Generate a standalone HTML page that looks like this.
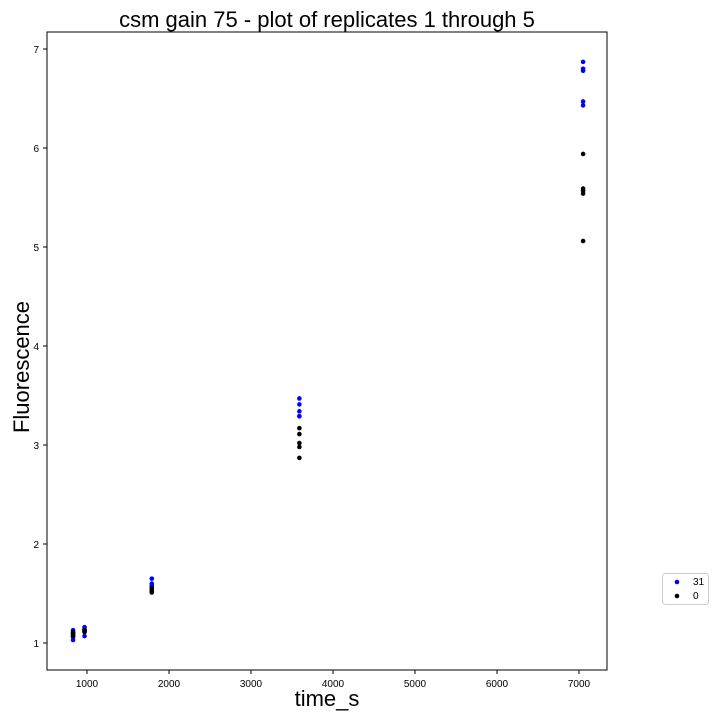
<!DOCTYPE html>
<html><head><meta charset="utf-8"><style>body{margin:0;background:#fff}svg{font-family:"Liberation Sans",sans-serif}</style></head>
<body>
<svg id="c" width="720" height="720"></svg>
<script>
const xBlue=[830,830,830,830,970,970,970,970,1790,1790,1790,1790,3590,3590,3590,3590,3590,7050,7050,7050,7050,7050];
const yBlue=[1.13,1.09,1.06,1.03,1.16,1.14,1.12,1.07,1.65,1.60,1.58,1.56,3.47,3.41,3.34,3.29,3.29,6.87,6.80,6.78,6.47,6.43];
const xBlack=[830,830,830,830,970,970,970,1790,1790,1790,1790,3590,3590,3590,3590,3590,7050,7050,7050,7050,7050];
const yBlack=[1.11,1.10,1.08,1.07,1.13,1.12,1.11,1.55,1.53,1.52,1.51,3.17,3.11,3.02,2.98,2.87,5.94,5.59,5.57,5.54,5.06];
const xTicks=[1000,2000,3000,4000,5000,6000,7000];
const yTicks=[1,2,3,4,5,6,7];
const L=47,R=607,T=32,B=670;
const sx=v=>87+(v-1000)*0.082, sy=v=>643-(v-1)*99;
const svg=document.getElementById('c');const NS='http://www.w3.org/2000/svg';
function mk(t,a,txt){const e=document.createElementNS(NS,t);for(const k in a)e.setAttribute(k,a[k]);if(txt!=null)e.textContent=txt;svg.appendChild(e);return e;}
let e;
e=mk('rect',{x:L,y:T,width:R-L,height:B-T,fill:'none',stroke:'#000','stroke-width':1});


xTicks.forEach(v=>{const x=sx(v);
e=mk('line',{x1:x,x2:x,y1:B,y2:B+4,stroke:'#000'});


e=mk('text',{x:x,y:B+17,'font-size':10,'text-anchor':'middle'},v);

});
yTicks.forEach(v=>{const y=sy(v);
e=mk('line',{x1:L-4,x2:L,y1:y,y2:y,stroke:'#000'});


e=mk('text',{x:L-8,y:y+4,'font-size':10,'text-anchor':'end'},v);

});
xBlue.forEach((v,i)=>{e=mk('circle',{cx:sx(v),cy:sy(yBlue[i]),r:2.3,fill:'#0000ff'});

});
xBlack.forEach((v,i)=>{e=mk('circle',{cx:sx(v),cy:sy(yBlack[i]),r:2.3,fill:'#000'});

});
e=mk('text',{x:327,y:27,'font-size':22,'text-anchor':'middle'},'csm gain 75 - plot of replicates 1 through 5');


e=mk('text',{x:327,y:706,'font-size':22,'text-anchor':'middle'},'time_s');


e=mk('text',{x:29,y:367,'font-size':22,'text-anchor':'middle',transform:'rotate(-90 29 367)'},'Fluorescence');


e=mk('rect',{x:662.5,y:573.5,width:46,height:31,rx:3,fill:'#fff',stroke:'#ccc'});


e=mk('circle',{cx:677,cy:582,r:2.3,fill:'#0000ff'});


e=mk('text',{x:693,y:585,'font-size':10},'31');


e=mk('circle',{cx:677,cy:596,r:2.3,fill:'#000'});


e=mk('text',{x:693,y:599,'font-size':10},'0');


</script>
</body></html>
